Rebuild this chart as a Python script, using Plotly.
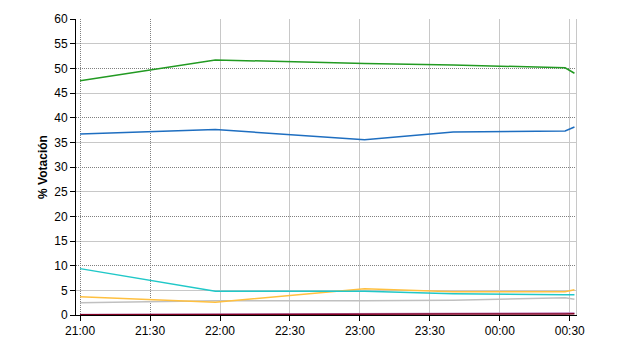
import plotly.graph_objects as go

times = ["2000-01-01 21:00", "2000-01-01 21:58", "2000-01-01 23:02",
         "2000-01-01 23:40", "2000-01-02 00:28", "2000-01-02 00:32"]
green = [47.5, 51.7, 51.0, 50.7, 50.1, 49.0]
blue = [36.7, 37.6, 35.5, 37.1, 37.3, 38.1]
cyan = [9.4, 4.8, 4.8, 4.3, 4.1, 4.1]
orange = [3.7, 2.6, 5.3, 4.7, 4.7, 5.1]
gray = [2.5, 2.9, 2.9, 3.0, 3.5, 3.2]
purple = [0.1, 0.2, 0.35, 0.35, 0.35, 0.4]
darkred = [0.05, 0.15, 0.2, 0.2, 0.2, 0.25]

tick_times = ["2000-01-01 21:00", "2000-01-01 21:30", "2000-01-01 22:00",
              "2000-01-01 22:30", "2000-01-01 23:00", "2000-01-01 23:30",
              "2000-01-02 00:00", "2000-01-02 00:30"]
tick_labels = ["21:00", "21:30", "22:00", "22:30", "23:00", "23:30", "00:00", "00:30"]
y_ticks = list(range(0, 61, 5))

x_range = ["2000-01-01 20:58:15", "2000-01-02 00:32:40"]

series = [
    (gray, "#c0c0c0"),
    (purple, "#c080c0"),
    (darkred, "#800020"),
    (orange, "#ffc040"),
    (cyan, "#20c8c8"),
    (blue, "#1e6ec0"),
    (green, "#229a22"),
]

fig = go.Figure()
# invisible helper traces so the overlaid grid axes get drawn
for xa, ya in (("x2", "y2"), ("x3", "y3")):
    fig.add_trace(go.Scatter(x=times, y=green, xaxis=xa, yaxis=ya, mode="lines",
                             line=dict(width=0, color="rgba(0,0,0,0)"),
                             opacity=0, showlegend=False, hoverinfo="skip"))
for vals, col in series:
    fig.add_trace(go.Scatter(x=times, y=vals, mode="lines",
                             line=dict(color=col, width=1.5),
                             showlegend=False, hoverinfo="skip"))

font = dict(family="Liberation Sans, Arial, sans-serif", size=12, color="black")
dot = "1px,1px"

fig.update_layout(
    width=640, height=350,
    margin=dict(l=76, r=64, t=15, b=35),
    paper_bgcolor="white", plot_bgcolor="white",
    font=font,
    xaxis=dict(type="date", range=x_range, tickmode="array",
               tickvals=tick_times, ticktext=tick_labels,
               showgrid=False, zeroline=False, showline=True,
               linecolor="black", linewidth=1, ticks="outside",
               ticklen=5, tickcolor="black", tickfont=font),
    xaxis2=dict(type="date", range=x_range, overlaying="x", tickmode="array",
                tickvals=tick_times[2:], showticklabels=False, ticks="",
                showgrid=True, gridcolor="#c8c8c8", gridwidth=1,
                zeroline=False, showline=False),
    xaxis3=dict(type="date", range=x_range, overlaying="x", tickmode="array",
                tickvals=tick_times[:2], showticklabels=False, ticks="",
                showgrid=True, gridcolor="#808080", griddash=dot, gridwidth=1,
                zeroline=False, showline=False),
    yaxis=dict(range=[0, 60], tickmode="array", tickvals=y_ticks,
               showgrid=False, zeroline=False, showline=True,
               linecolor="black", linewidth=1, ticks="outside",
               ticklen=5, tickcolor="black", tickfont=font,
               title=dict(text="<b>% Votación</b>", standoff=4,
                          font=dict(family="Liberation Sans, Arial, sans-serif",
                                    size=12, color="black"))),
    yaxis2=dict(range=[0, 60], overlaying="y", tickmode="array",
                tickvals=y_ticks[1::2], showticklabels=False, ticks="",
                showgrid=True, gridcolor="#c8c8c8", gridwidth=1,
                zeroline=False, showline=True, side="right",
                linecolor="#c8c8c8", linewidth=1),
    yaxis3=dict(range=[0, 60], overlaying="y", tickmode="array",
                tickvals=y_ticks[2::2], showticklabels=False, ticks="",
                showgrid=True, gridcolor="#808080", griddash=dot, gridwidth=1,
                zeroline=False, showline=False),
)

fig.write_html("out.html")
